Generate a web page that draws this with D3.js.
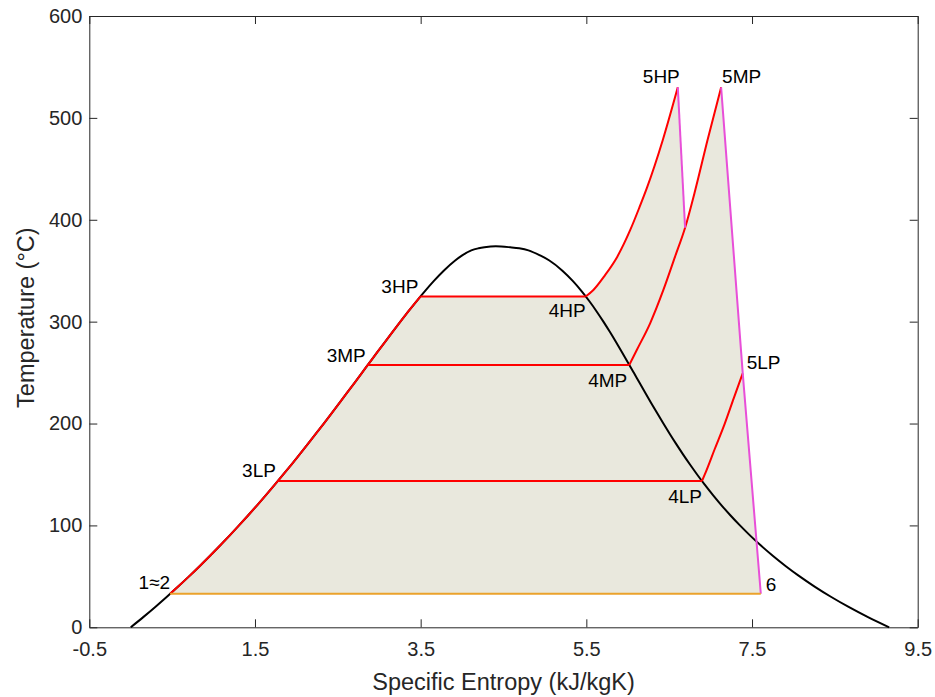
<!DOCTYPE html>
<html>
<head>
<meta charset="utf-8">
<script src="https://cdn.jsdelivr.net/npm/d3@7"></script>
<style>
  html, body { margin: 0; padding: 0; background: #fff; }
  svg { display: block; font-family: "Liberation Sans", Arial, Helvetica, sans-serif; }
</style>
</head>
<body>
<svg id="chart" width="935" height="697"></svg>
<script>
// Saturation dome of water: temperature (°C), liquid and vapour entropy (kJ/kgK)
const satT  = [0.01, 10, 20, 30, 40, 50, 60, 70, 80, 90, 100, 110, 120, 130, 140, 150, 160, 170, 180, 190,
               200, 210, 220, 230, 240, 250, 260, 270, 280, 290, 300, 310, 320, 330, 340, 350, 360, 365, 370, 372, 373, 373.95];
const satSf = [0.0000, 0.1511, 0.2965, 0.4368, 0.5724, 0.7038, 0.8313, 0.9551, 1.0756, 1.1929, 1.3072, 1.4188, 1.5279,
               1.6346, 1.7392, 1.8418, 1.9426, 2.0417, 2.1392, 2.2355, 2.3305, 2.4245, 2.5177, 2.6101, 2.7020, 2.7935,
               2.8849, 2.9765, 3.0685, 3.1612, 3.2552, 3.3510, 3.4494, 3.5518, 3.6601, 3.7784, 3.9167, 4.0014, 4.1112,
               4.2000, 4.2700, 4.4070];
const satSg = [9.1556, 8.8999, 8.6661, 8.4520, 8.2555, 8.0748, 7.9081, 7.7540, 7.6111, 7.4781, 7.3541, 7.2381, 7.1291,
               7.0264, 6.9293, 6.8371, 6.7491, 6.6650, 6.5840, 6.5059, 6.4302, 6.3563, 6.2840, 6.2128, 6.1423, 6.0721,
               6.0016, 5.9304, 5.8579, 5.7834, 5.7059, 5.6244, 5.5372, 5.4422, 5.3356, 5.2110, 5.0536, 4.9412, 4.8012,
               4.6900, 4.5800, 4.4070];

// Condenser state (points 1≈2 and 6)
const condT = 32.9;
const s1 = 0.476;
const s6 = 7.606;

// Evaporation levels: LP, MP, HP
const levelNames = ["LP", "MP", "HP"];
const levelT  = [143.6, 257.4, 324.7];
const levelSf = [1.777, 2.862, 3.496];
const levelSg = [6.896, 6.018, 5.492];

// Superheating curves (4 → 5) for each pressure
const hpS = [5.492, 5.585, 5.720, 5.874, 6.030, 6.140, 6.230, 6.423, 6.604];
const hpT = [324.7, 331.1, 345.0, 363.8, 390.0, 412.0, 431.0, 478.3, 530.0];
const mpS = [6.018, 6.109, 6.270, 6.430, 6.571, 6.692, 6.815, 6.963, 7.127];
const mpT = [257.4, 272.2, 298.4, 331.1, 363.8, 392.2, 429.2, 478.3, 530.0];
const lpS = [6.896, 6.930, 7.050, 7.171, 7.280, 7.388];
const lpT = [143.6, 150.0, 175.0, 200.0, 225.0, 249.3];

// HP turbine exit lands on the MP superheating curve (index into mp arrays)
const hpExitIndex = 5;

// Axis ticks
const xTicks = [-0.5, 1.5, 3.5, 5.5, 7.5, 9.5];
const xTickLabels = ["-0.5", "1.5", "3.5", "5.5", "7.5", "9.5"];
const yTicks = [0, 100, 200, 300, 400, 500, 600];
const xLabel = "Specific Entropy (kJ/kgK)";
const yLabel = "Temperature (°C)";

// ---------------------------------------------------------------
const svg = d3.select("#chart");
const plotL = 89.3, plotR = 917.7, plotT = 16, plotB = 627.3;
const x = d3.scaleLinear().domain([-0.5, 9.5]).range([plotL, plotR]);
const y = d3.scaleLinear().domain([0, 600]).range([plotB, plotT]);

const zip = (S, T) => S.map((s, i) => [s, T[i]]);
const line = d3.line().x(d => x(d[0])).y(d => y(d[1])).curve(d3.curveMonotoneX);
const straight = d3.line().x(d => x(d[0])).y(d => y(d[1]));

const satLiquid = zip(satSf, satT);
const satVapour = zip(satSg, satT).reverse();
const dome = satLiquid.concat(satVapour.slice(1));

// Liquid line from pump exit (1≈2) up to HP saturation (3HP)
const hpIdx = 2;
const liquid = [[s1, condT]]
  .concat(satLiquid.filter(d => d[1] > condT + 1 && d[1] < levelT[hpIdx] - 1))
  .concat([[levelSf[hpIdx], levelT[hpIdx]]]);

const hp = zip(hpS, hpT);
const mp = zip(mpS, mpT);
const lp = zip(lpS, lpT);
const hpExit = mp[hpExitIndex];
const p5HP = hp[hp.length - 1];
const p5MP = mp[mp.length - 1];
const p5LP = lp[lp.length - 1];
const p6 = [s6, condT];

// Join several path pieces into one continuous outline
function joinPaths(parts) {
  return parts.map((p, i) => i === 0 ? p : "L" + p.slice(1)).join("") + "Z";
}

// Shaded cycle area
const fillD = joinPaths([
  line(liquid),
  line(hp),
  straight([p5HP, hpExit]),
  line(mp.slice(hpExitIndex)),
  straight([p5MP, p5LP, p6])
]);
svg.append("path").attr("d", fillD).attr("fill", "#e9e8dd").attr("stroke", "none");

// Axes (box with inward ticks)
const axisColor = "#262626";
function styleAxis(g) {
  g.select(".domain").attr("stroke", axisColor).attr("stroke-width", 1);
  g.selectAll(".tick line").attr("stroke", axisColor).attr("stroke-width", 1);
  g.selectAll(".tick text").attr("fill", axisColor).style("font-size", "20px")
    .style("font-family", "'Liberation Sans', Arial, Helvetica, sans-serif");
}
svg.append("g").attr("transform", `translate(0,${plotB})`)
  .call(d3.axisBottom(x).tickValues(xTicks).tickSizeInner(-8).tickSizeOuter(0).tickPadding(15)
    .tickFormat((d, i) => xTickLabels[i]))
  .call(styleAxis);
svg.append("g").attr("transform", `translate(0,${plotT})`)
  .call(d3.axisTop(x).tickValues(xTicks).tickSizeInner(-8).tickSizeOuter(0).tickFormat(""))
  .call(styleAxis);
svg.append("g").attr("transform", `translate(${plotL},0)`)
  .call(d3.axisLeft(y).tickValues(yTicks).tickSizeInner(-8).tickSizeOuter(0).tickPadding(7))
  .call(styleAxis);
svg.append("g").attr("transform", `translate(${plotR},0)`)
  .call(d3.axisRight(y).tickValues(yTicks).tickSizeInner(-8).tickSizeOuter(0).tickFormat(""))
  .call(styleAxis);

// Saturation dome
svg.append("path").attr("d", line(dome)).attr("fill", "none")
  .attr("stroke", "#000").attr("stroke-width", 2);

// Heat addition (red): liquid heating, evaporation, superheating
const red = "#ff0000";
const redW = 2;
svg.append("path").attr("d", line(liquid)).attr("fill", "none").attr("stroke", red).attr("stroke-width", redW);
levelT.forEach((t, i) => {
  svg.append("path").attr("d", straight([[levelSf[i], t], [levelSg[i], t]]))
    .attr("fill", "none").attr("stroke", red).attr("stroke-width", redW);
});
[hp, mp, lp].forEach(c => {
  svg.append("path").attr("d", line(c)).attr("fill", "none").attr("stroke", red).attr("stroke-width", redW);
});

// Expansion (magenta)
const pink = "#e84fd8";
svg.append("path").attr("d", straight([p5HP, hpExit])).attr("fill", "none").attr("stroke", pink).attr("stroke-width", 2);
svg.append("path").attr("d", straight([p5MP, p5LP, p6])).attr("fill", "none").attr("stroke", pink).attr("stroke-width", 2);

// Condensation (orange)
svg.append("path").attr("d", straight([[s1, condT], p6])).attr("fill", "none")
  .attr("stroke", "#eba22b").attr("stroke-width", 2);

// State point labels
const labels = [
  { text: "1≈2", p: [s1, condT], anchor: "end",   dx: 0,  dy: -5 },
  { text: "3LP", p: [levelSf[0], levelT[0]], anchor: "end", dx: -2, dy: -4 },
  { text: "3MP", p: [levelSf[1], levelT[1]], anchor: "end", dx: -2, dy: -3 },
  { text: "3HP", p: [levelSf[2], levelT[2]], anchor: "end", dx: -2, dy: -3 },
  { text: "4LP", p: [levelSg[0], levelT[0]], anchor: "end", dx: 0,  dy: 22 },
  { text: "4MP", p: [levelSg[1], levelT[1]], anchor: "end", dx: -2, dy: 22 },
  { text: "4HP", p: [levelSg[2], levelT[2]], anchor: "end", dx: 0,  dy: 21 },
  { text: "5HP", p: p5HP, anchor: "end",   dx: 2, dy: -4 },
  { text: "5MP", p: p5MP, anchor: "start", dx: 1, dy: -4 },
  { text: "5LP", p: p5LP, anchor: "start", dx: 4, dy: -4 },
  { text: "6",   p: p6,   anchor: "start", dx: 5, dy: -3 }
];
svg.append("g").selectAll("text").data(labels).join("text")
  .attr("x", d => x(d.p[0]) + d.dx)
  .attr("y", d => y(d.p[1]) + d.dy)
  .attr("text-anchor", d => d.anchor)
  .attr("fill", "#000")
  .style("font-size", "19px")
  .text(d => d.text);

// Axis titles
svg.append("text").attr("x", (plotL + plotR) / 2).attr("y", 690)
  .attr("text-anchor", "middle").attr("fill", axisColor).style("font-size", "23.5px").text(xLabel);
svg.append("text").attr("transform", `translate(34,${(plotT + plotB) / 2 - 4}) rotate(-90)`)
  .attr("text-anchor", "middle").attr("fill", axisColor).style("font-size", "23.5px").text(yLabel);
</script>
</body>
</html>
